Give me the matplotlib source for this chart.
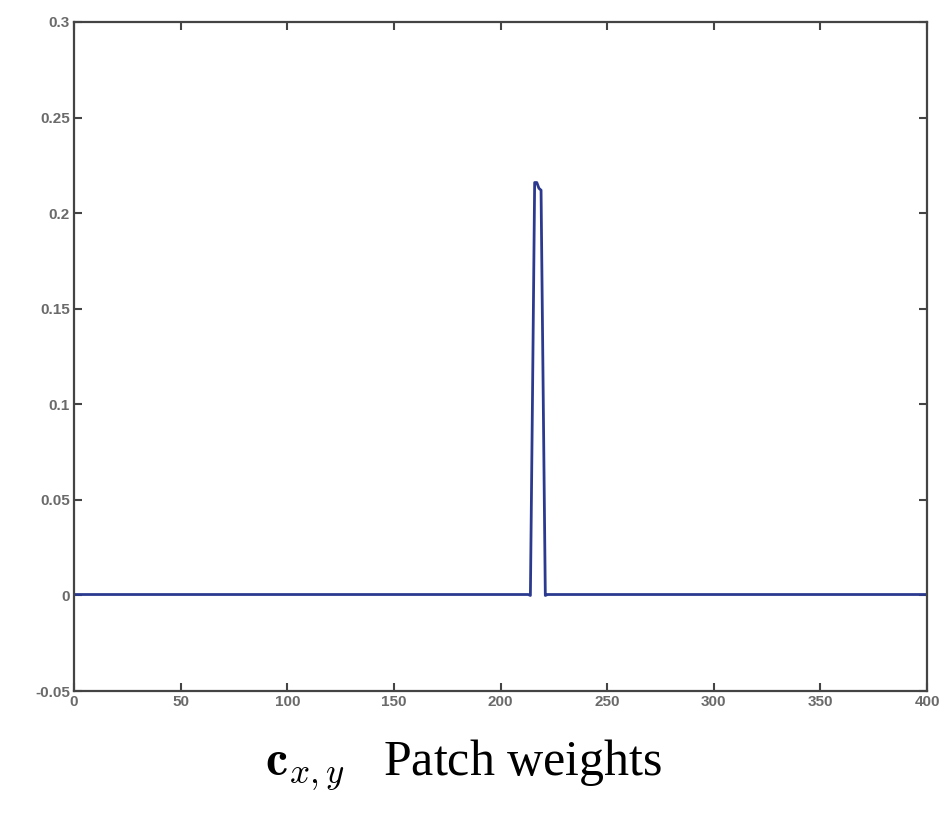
import numpy as np
import matplotlib
matplotlib.use("Agg")
import matplotlib.pyplot as plt

# ---- data ----
n_points = 400
peak_x = [214, 215, 216, 217, 218, 219, 220, 221]
peak_y = [0.0, 0.105, 0.216, 0.216, 0.213, 0.212, 0.105, 0.0]
baseline_value = 0.0005

x_ticks = [0, 50, 100, 150, 200, 250, 300, 350, 400]
y_ticks = [-0.05, 0, 0.05, 0.1, 0.15, 0.2, 0.25, 0.3]
y_tick_labels = ["-0.05", "0", "0.05", "0.1", "0.15", "0.2", "0.25", "0.3"]
caption = r"$\mathbf{c}_{x,y}$   Patch weights"

x = np.arange(0, n_points + 1)
y = np.full(x.shape, baseline_value, dtype=float)
for px, py in zip(peak_x, peak_y):
    y[px] = py

plt.rcParams['mathtext.fontset'] = 'cm'
fig = plt.figure(figsize=(9.46, 8.13), dpi=100)
ax = fig.add_axes([0.0782, 0.150, 0.9018, 0.823])
ax.plot(x, y, color="#2b3a8f", linewidth=2.0, solid_joinstyle='round')

ax.set_xlim(0, 400)
ax.set_ylim(-0.05, 0.3)
ax.set_xticks(x_ticks)
ax.set_xticklabels([str(v) for v in x_ticks])
ax.set_yticks(y_ticks)
ax.set_yticklabels(y_tick_labels)
ax.tick_params(direction='in', length=6, width=1.5, color='#444444',
               top=True, right=True, labelsize=11, labelcolor='#6a6a6a', pad=3)
for lab in ax.get_xticklabels() + ax.get_yticklabels():
    lab.set_fontfamily('Liberation Sans')
    lab.set_fontweight('bold')
for sp in ax.spines.values():
    sp.set_color('#444444')
    sp.set_linewidth(1.6)

fig.text(0.49, 0.059, caption, ha='center', va='center', fontsize=36,
         fontfamily='Liberation Serif')

fig.savefig("out.png", dpi=100)
